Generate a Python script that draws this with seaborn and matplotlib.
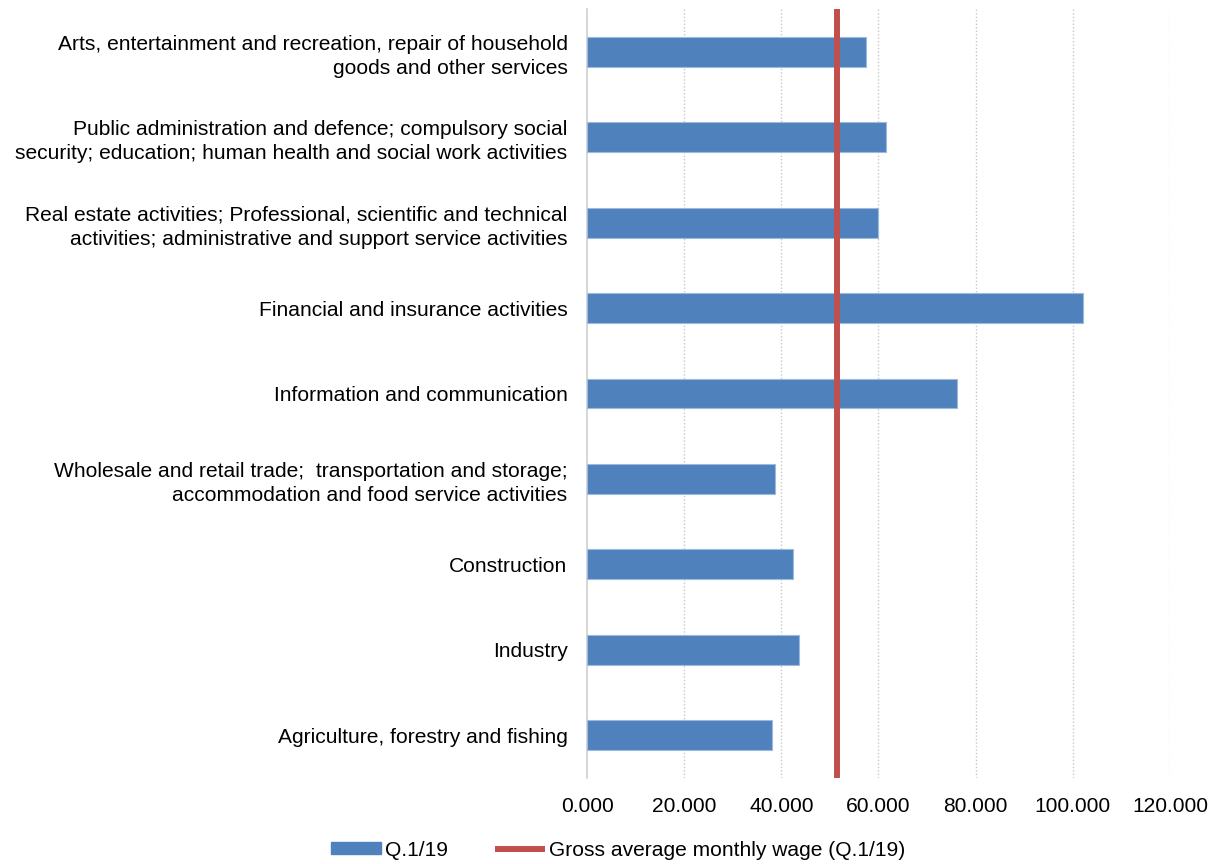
import matplotlib
matplotlib.use("Agg")
import matplotlib.pyplot as plt
import seaborn as sns
import pandas as pd
from matplotlib.patches import Patch
from matplotlib.lines import Line2D
from matplotlib.ticker import FuncFormatter, MultipleLocator

categories = [
    "Arts, entertainment and recreation, repair of household\ngoods and other services",
    "Public administration and defence; compulsory social\nsecurity; education; human health and social work activities",
    "Real estate activities; Professional, scientific and technical\nactivities; administrative and support service activities",
    "Financial and insurance activities",
    "Information and communication",
    "Wholesale and retail trade;  transportation and storage;\naccommodation and food service activities",
    "Construction",
    "Industry",
    "Agriculture, forestry and fishing",
]
wages_q1_19 = [57.5, 61.6, 59.8, 102.0, 76.1, 38.6, 42.5, 43.6, 38.0]
avg_wage = 51.5
series_label = "Q.1/19"
avg_label = "Gross average monthly wage (Q.1/19)"

sns.set_theme(style="white")
plt.rcParams["font.family"] = ["Liberation Sans", "DejaVu Sans"]
plt.rcParams["text.color"] = "black"

df = pd.DataFrame({"category": categories, "wage": wages_q1_19})

BLUE = "#4F81BD"
RED = "#C0504D"
FS = 15.15

fig = plt.figure(figsize=(12.25, 8.64), dpi=100)
ax = fig.add_axes([587 / 1225, 1 - 778 / 864, (1170 - 587) / 1225, (778 - 9) / 864])

sns.barplot(data=df, x="wage", y="category", order=categories, color=BLUE,
            width=0.35, saturation=1, edgecolor="#9DB9DD", linewidth=0.8, ax=ax, zorder=3)
ax.axvline(avg_wage, color=RED, linewidth=4.3, zorder=4)

ax.set_xlim(0, 120)
ax.set_ylim(len(categories) - 0.5, -0.5)
ax.xaxis.set_major_locator(MultipleLocator(20))
ax.xaxis.set_major_formatter(FuncFormatter(lambda v, p: f"{v:.3f}"))
ax.set_xlabel("")
ax.set_ylabel("")

for v in range(20, 121, 20):
    ax.axvline(v, color="#C8C8C8", linestyle=(0, (1, 1.5)), linewidth=1.0, zorder=1)

for s in ["top", "right", "bottom"]:
    ax.spines[s].set_visible(False)
ax.spines["left"].set_color("#D0D0D0")
ax.spines["left"].set_linewidth(1.2)

ax.tick_params(axis="x", length=0, pad=14, labelsize=FS, colors="black")
ax.tick_params(axis="y", length=0, pad=14, labelsize=FS, colors="black")
for t in ax.get_yticklabels():
    t.set_linespacing(1.35)

handles = [Patch(facecolor=BLUE, edgecolor=BLUE, label=series_label),
           Line2D([0], [0], color=RED, linewidth=4.3, solid_capstyle="butt", label=avg_label)]
fig.legend(handles=handles, loc="center", bbox_to_anchor=(618 / 1225, 1 - 850 / 864), ncol=2,
           frameon=False, fontsize=FS, handlelength=2.4, handleheight=0.55,
           handletextpad=0.2, columnspacing=2.2, labelcolor="black")

fig.savefig("out.png", dpi=100)
